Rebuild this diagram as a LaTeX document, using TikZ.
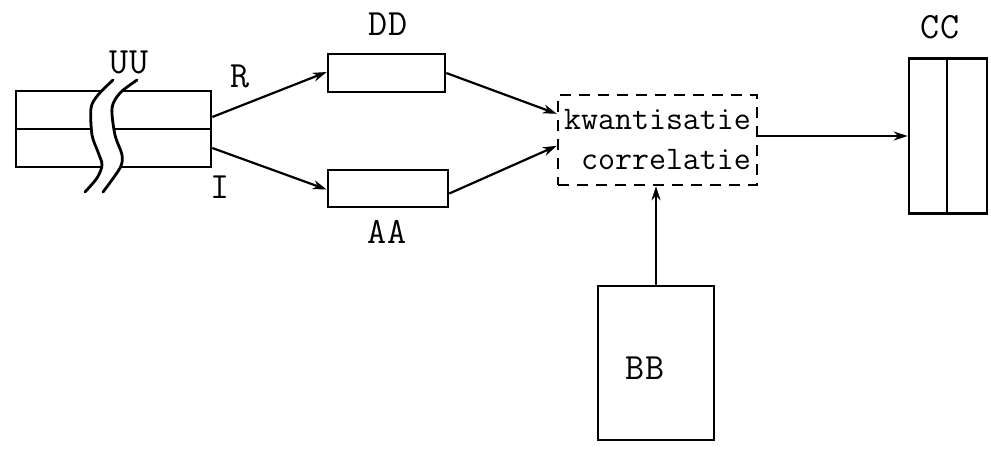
\documentclass[tikz,border=0pt]{standalone}
\usetikzlibrary{calc,arrows.meta}
\begin{document}
\begin{tikzpicture}[x=1pt,y=-1pt,
  every node/.style={font=\ttfamily\fontsize{33}{40}\selectfont},
  lbl/.style={font=\ttfamily\fontsize{37}{40}\selectfont},
  box/.style={draw,line width=2.6pt,inner sep=0pt},
  dbox/.style={draw,line width=2.4pt,dash pattern=on 11pt off 8pt,inner sep=0pt,align=right},
  conn/.style={line width=2.2pt,-{Stealth[length=14pt,width=9pt]}},
  wave/.style={line width=2.8pt,line cap=round}]
\useasboundingbox (0,0) rectangle (991,451);
% cable
\node[box,minimum width=195pt,minimum height=76pt] (cable) at (113.5,129) {};
\draw[line width=2.6pt] (cable.west) -- (cable.east);
\fill[white] plot[smooth] coordinates {(113,80) (98,95) (91,108) (92,135) (98,152) (102,165) (97,178) (85,192)}
  -- plot[smooth] coordinates {(103,192) (120,168) (122,155) (115,135) (112,108) (120,93) (137,80)} -- cycle;
\draw[wave] plot[smooth] coordinates {(113,80) (98,95) (91,108) (92,135) (98,152) (102,165) (97,178) (85,192)};
\draw[wave] plot[smooth] coordinates {(137,80) (120,93) (112,108) (115,135) (122,155) (120,168) (103,192)};
% boxes
\node[box,minimum width=117pt,minimum height=38pt] (dd) at (386.5,73) {};
\node[box,minimum width=120pt,minimum height=37pt] (aa) at (388,188.5) {};
\node[dbox,minimum width=199pt,minimum height=90pt] (q) at (657.5,140) {kwantisatie\\correlatie};
\node[box,minimum width=78pt,minimum height=155pt] (cc) at (948,136) {};
\draw[line width=2.6pt] (947,58.5) -- (947,213.5);
\node[box,minimum width=116pt,minimum height=154pt] (bb) at (656,363) {};
% labels
\node[lbl] (uu) at (129,62) {UU};
\node[lbl] (r) at (240,76) {R};
\node[lbl] (i) at (220,187) {I};
\node[lbl] (ddl) at (388,24) {DD};
\node[lbl] (aal) at (387,232) {AA};
\node[lbl] (ccl) at (940,27) {CC};
\node[lbl] (bbl) at (645,368) {BB};
% connectors
\draw[conn] ($(cable.east)+(0,-12)$) -- ($(dd.west)+(0,-1)$);
\draw[conn] ($(cable.east)+(0,19)$) -- ($(aa.west)+(0,1)$);
\draw[conn] (dd.east) -- ($(q.north west)+(0,20)$);
\draw[conn] ($(aa.east)+(0,5)$) -- ($(q.north west)+(0,52)$);
\draw[conn] (q.east |- cc.west) -- (cc.west);
\draw[conn] (bb.north) -- (bb.north |- q.south);
\end{tikzpicture}
\end{document}
